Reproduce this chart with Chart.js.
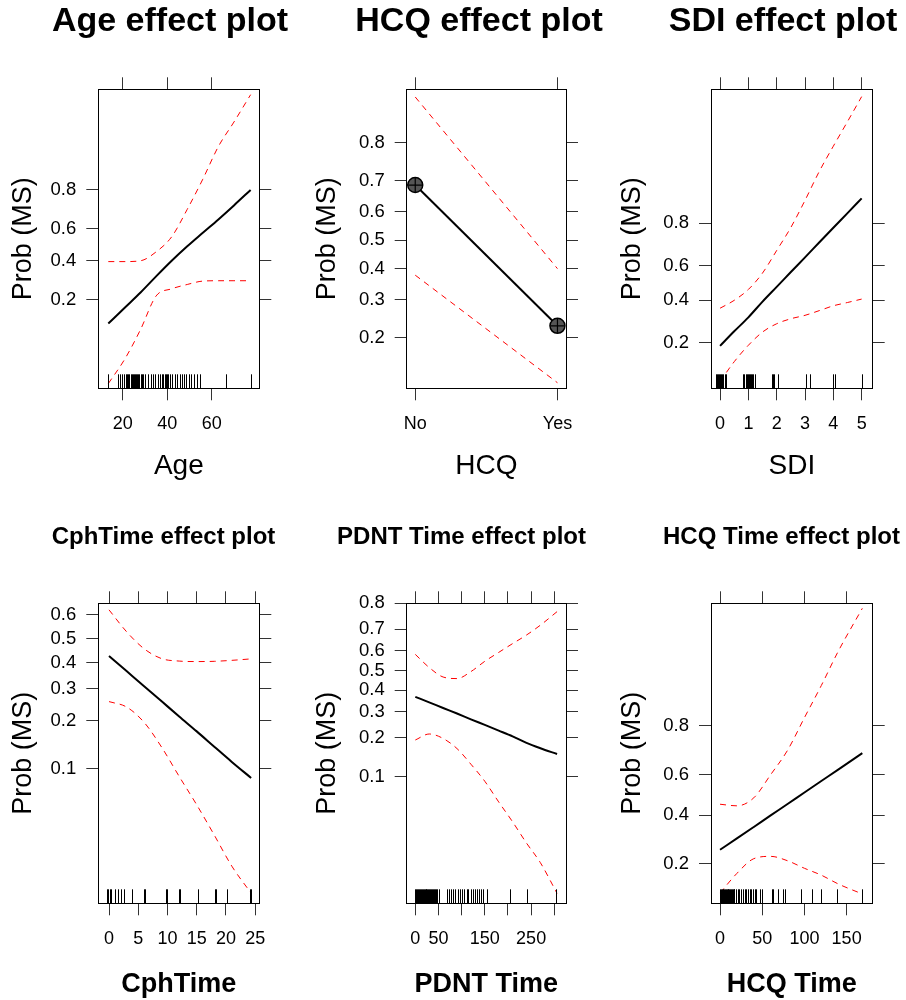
<!DOCTYPE html>
<html>
<head>
<meta charset="utf-8">
<title>Effect plots</title>
<script src="https://cdn.jsdelivr.net/npm/chart.js@4.4.1/dist/chart.umd.min.js"></script>
<style>
  html, body { margin: 0; padding: 0; background: #fff; overflow: hidden; }
  body { width: 906px; height: 1000px; position: relative; }
  canvas { position: absolute; }
</style>
</head>
<body>
<canvas id="ageChart"></canvas>
<canvas id="hcqChart"></canvas>
<canvas id="sdiChart"></canvas>
<canvas id="cphChart"></canvas>
<canvas id="pdntChart"></canvas>
<canvas id="hcqTimeChart"></canvas>
<script>
// ---- Data (probabilities; plotted on a logit axis) ----

// Age
const ageX = [13.5, 21, 28, 35, 42, 49, 56, 63, 70, 77.5];
const ageFit = [0.12, 0.17, 0.23, 0.31, 0.40, 0.49, 0.575, 0.655, 0.73, 0.80];
const ageUpper = [0.395, 0.395, 0.40, 0.455, 0.55, 0.71, 0.84, 0.923, 0.957, 0.978];
const ageLower = [0.029, 0.053, 0.105, 0.215, 0.247, 0.268, 0.285, 0.287, 0.287, 0.287];
const ageRug = [13.5, 18, 18.7, 19.7, 20.6, 21.6, 22, 22.5, 23, 23.5, 24, 24.5, 25, 25.5, 26, 26.5, 27, 27.5, 28, 28.5,
  29.1, 30.2, 31.4, 32.6, 33.6, 34.7, 35.9, 36.9, 37.8, 38.3, 38.8, 39.3, 39.8, 40.4, 41.1, 42.2, 43.4, 44.4, 45.6,
  46.6, 47.5, 48.6, 49.7, 50.8, 52.1, 53.3, 54.6, 66.3, 77.5];
const ageXTicks = [20, 40, 60];
const ageXLabels = ['20', '40', '60'];
const ageYTicks = [0.2, 0.4, 0.6, 0.8];
const ageYLabels = ['0.2', '0.4', '0.6', '0.8'];
const ageXLimits = [9.0, 81.4];
const ageYLimits = [-3.63, 3.93];   // logit units

// HCQ (factor)
const hcqLevels = ['No', 'Yes'];
const hcqX = [1, 2];
const hcqFit = [0.687, 0.228];
const hcqUpper = [0.885, 0.40];
const hcqLower = [0.378, 0.116];
const hcqYTicks = [0.2, 0.3, 0.4, 0.5, 0.6, 0.7, 0.8];
const hcqYLabels = ['0.2', '0.3', '0.4', '0.5', '0.6', '0.7', '0.8'];
const hcqXLimits = [0.94, 2.06];
const hcqYLimits = [-2.11, 2.15];

// SDI
const sdiX = [0, 0.5, 1, 1.5, 2, 2.5, 3, 3.5, 4, 4.5, 5];
const sdiFit = [0.188, 0.245, 0.31, 0.393, 0.477, 0.563, 0.644, 0.719, 0.783, 0.835, 0.877];
const sdiUpper = [0.357, 0.40, 0.462, 0.557, 0.68, 0.784, 0.872, 0.93, 0.96, 0.977, 0.987];
const sdiLower = [0.092, 0.138, 0.19, 0.242, 0.279, 0.303, 0.32, 0.344, 0.37, 0.388, 0.407];
const sdiRug = [-0.16, -0.12, -0.08, -0.04, 0, 0.04, 0.08, 0.12, 0.16, 0.2,
  0.82, 0.86, 0.9, 0.94, 0.98, 1.02, 1.06, 1.1, 1.14, 1.18, 1.22,
  1.84, 1.88, 1.92, 2.04, 3.05, 3.17, 3.99, 4.07, 5.0];
const sdiXTicks = [0, 1, 2, 3, 4, 5];
const sdiXLabels = ['0', '1', '2', '3', '4', '5'];
const sdiYTicks = [0.2, 0.4, 0.6, 0.8];
const sdiYLabels = ['0.2', '0.4', '0.6', '0.8'];
const sdiXLimits = [-0.32, 5.39];
const sdiYLimits = [-2.45, 4.50];

// CphTime
const cphX = [0, 3, 6, 9, 12, 15, 18, 21, 24.3];
const cphFit = [0.428, 0.367, 0.31, 0.258, 0.212, 0.173, 0.139, 0.111, 0.087];
const cphUpper = [0.62, 0.53, 0.458, 0.417, 0.407, 0.405, 0.406, 0.41, 0.416];
const cphLower = [0.257, 0.24, 0.196, 0.138, 0.089, 0.057, 0.035, 0.021, 0.0134];
const cphRug = [-0.3, -0.1, 0.1, 0.3, 0.95, 1.6, 2.0, 2.6, 4.0, 5.9, 6.1, 9.8, 10.0,
  11.9, 12.1, 15.2, 18.1, 18.3, 20.1, 24.1, 24.3];
const cphXTicks = [0, 5, 10, 15, 20, 25];
const cphXLabels = ['0', '5', '10', '15', '20', '25'];
const cphYTicks = [0.1, 0.2, 0.3, 0.4, 0.5, 0.6];
const cphYLabels = ['0.1', '0.2', '0.3', '0.4', '0.5', '0.6'];
const cphXLimits = [-1.83, 25.7];
const cphYLimits = [-4.47, 0.60];

// PDNT Time
const pdntX = [0, 30, 60, 90, 120, 150, 180, 210, 240, 270, 306];
const pdntFit = [0.367, 0.341, 0.315, 0.291, 0.267, 0.245, 0.224, 0.204, 0.183, 0.167, 0.151];
const pdntUpper = [0.582, 0.515, 0.466, 0.458, 0.494, 0.547, 0.592, 0.635, 0.675, 0.718, 0.771];
const pdntLower = [0.192, 0.212, 0.197, 0.166, 0.126, 0.092, 0.062, 0.042, 0.0275, 0.0185, 0.0099];
const pdntRug = [0, 2, 4, 6, 8, 10, 12, 14, 16, 18, 20, 22, 24, 26, 28, 30, 32, 34, 36, 38, 40, 42, 44, 46,
  51, 67.7, 72.7, 76.3, 80.6, 86.4, 92.8, 96.5, 100.8, 105, 110.9, 114.5, 119.5, 123.9, 128.2,
  132.5, 136.8, 141.2, 145.5, 154, 204.4, 241.8, 303.7];
const pdntXTicks = [0, 50, 100, 150, 200, 250, 300];
const pdntXLabels = ['0', '50', '', '150', '', '250', ''];
const pdntYTicks = [0.1, 0.2, 0.3, 0.4, 0.5, 0.6, 0.7, 0.8];
const pdntYLabels = ['0.1', '0.2', '0.3', '0.4', '0.5', '0.6', '0.7', '0.8'];
const pdntXLimits = [-18.6, 325.3];
const pdntYLimits = [-4.81, 1.3865];

// HCQ Time
const hcqtX = [0, 20, 40, 60, 80, 100, 120, 140, 168.6];
const hcqtFit = [0.249, 0.294, 0.344, 0.398, 0.454, 0.512, 0.569, 0.624, 0.698];
const hcqtUpper = [0.453, 0.445, 0.485, 0.60, 0.71, 0.825, 0.90, 0.947, 0.977];
const hcqtLower = [0.122, 0.171, 0.217, 0.225, 0.21, 0.186, 0.166, 0.143, 0.12];
const hcqtRug = [0, 1, 2, 3, 4, 5, 6, 7, 8, 9, 10, 11, 12, 13, 14, 15, 16, 17, 19, 21, 23, 25, 27, 29, 31,
  33, 35, 37, 39, 41, 43, 47, 50, 61, 63, 69, 75, 77, 96.5, 108.5, 120, 139, 168];
const hcqtXTicks = [0, 50, 100, 150];
const hcqtXLabels = ['0', '50', '100', '150'];
const hcqtYTicks = [0.2, 0.4, 0.6, 0.8];
const hcqtYLabels = ['0.2', '0.4', '0.6', '0.8'];
const hcqtXLimits = [-10.7, 180.9];
const hcqtYLimits = [-2.18, 3.85];

// ---- Layout ----
const FONT = "'Liberation Sans', Arial, Helvetica, sans-serif";
Chart.defaults.font.family = FONT;
Chart.defaults.color = '#000';

const rows = [
  { top: 0, height: 500, boxTop: 89.3, boxBottom: 388.3, titleSize: 34, titlePad: 5, xTitleBold: false, xTitleSize: 28, xTitlePad: 20 },
  { top: 500, height: 500, boxTop: 103.3, boxBottom: 403.3, titleSize: 24, titlePad: 25, xTitleBold: true, xTitleSize: 27, xTitlePad: 1.5 }
];

const panels = [
  { id: 'ageChart', row: 0, left: 0, width: 340, boxLeft: 98.3, boxRight: 259.3, yTitleX: 24,
    title: 'Age effect plot', xTitle: 'Age', x: ageX, fit: ageFit, upper: ageUpper, lower: ageLower, rug: ageRug,
    xTicks: ageXTicks, xLabels: ageXLabels, yTicks: ageYTicks, yLabels: ageYLabels, xLim: ageXLimits, yLim: ageYLimits },
  { id: 'hcqChart', row: 0, left: 302, width: 354, boxLeft: 406.7, boxRight: 566, yTitleX: 328,
    title: 'HCQ effect plot', xTitle: 'HCQ', x: hcqX, fit: hcqFit, upper: hcqUpper, lower: hcqLower, rug: [], markers: true,
    xTicks: hcqX, xLabels: hcqLevels, yTicks: hcqYTicks, yLabels: hcqYLabels, xLim: hcqXLimits, yLim: hcqYLimits },
  { id: 'sdiChart', row: 0, left: 615, width: 336, boxLeft: 711, boxRight: 872.7, yTitleX: 632.5,
    title: 'SDI effect plot', xTitle: 'SDI', x: sdiX, fit: sdiFit, upper: sdiUpper, lower: sdiLower, rug: sdiRug,
    xTicks: sdiXTicks, xLabels: sdiXLabels, yTicks: sdiYTicks, yLabels: sdiYLabels, xLim: sdiXLimits, yLim: sdiYLimits },
  { id: 'cphChart', row: 1, left: 0, width: 327, boxLeft: 98.3, boxRight: 259.3, yTitleX: 23.3,
    title: 'CphTime effect plot', xTitle: 'CphTime', x: cphX, fit: cphFit, upper: cphUpper, lower: cphLower, rug: cphRug,
    xTicks: cphXTicks, xLabels: cphXLabels, yTicks: cphYTicks, yLabels: cphYLabels, xLim: cphXLimits, yLim: cphYLimits },
  { id: 'pdntChart', row: 1, left: 300, width: 323, boxLeft: 406.7, boxRight: 566, yTitleX: 327.5,
    title: 'PDNT Time effect plot', xTitle: 'PDNT Time', x: pdntX, fit: pdntFit, upper: pdntUpper, lower: pdntLower, rug: pdntRug,
    xTicks: pdntXTicks, xLabels: pdntXLabels, yTicks: pdntYTicks, yLabels: pdntYLabels, xLim: pdntXLimits, yLim: pdntYLimits },
  { id: 'hcqTimeChart', row: 1, left: 615, width: 333, boxLeft: 711, boxRight: 872.7, yTitleX: 632.5,
    title: 'HCQ Time effect plot', xTitle: 'HCQ Time', x: hcqtX, fit: hcqtFit, upper: hcqtUpper, lower: hcqtLower, rug: hcqtRug,
    xTicks: hcqtXTicks, xLabels: hcqtXLabels, yTicks: hcqtYTicks, yLabels: hcqtYLabels, xLim: hcqtXLimits, yLim: hcqtYLimits }
];

const logit = p => Math.log(p / (1 - p));

// rug marks along the bottom of the panel
const rugPlugin = {
  id: 'rug',
  afterDatasetsDraw(chart, args, opts) {
    const values = opts.values || [];
    if (!values.length) return;
    const { ctx, chartArea, scales } = chart;
    ctx.save();
    ctx.strokeStyle = '#000';
    ctx.lineWidth = 1;
    ctx.beginPath();
    values.forEach(v => {
      const px = Math.round(scales.x.getPixelForValue(v)) + 0.5;
      ctx.moveTo(px, chartArea.bottom);
      ctx.lineTo(px, chartArea.bottom - 14);
    });
    ctx.stroke();
    ctx.restore();
  }
};

function axisBase(min, max, ticks) {
  return {
    type: 'linear',
    min: min,
    max: max,
    bounds: 'data',
    afterBuildTicks: axis => { axis.ticks = ticks.map(v => ({ value: v })); },
    grid: { drawOnChartArea: false, drawTicks: true, tickLength: 12, tickColor: '#333', tickWidth: 1 },
    border: { display: true, color: '#000', width: 1 }
  };
}

function makeChart(p) {
  const row = rows[p.row];
  const canvas = document.getElementById(p.id);
  canvas.width = p.width;
  canvas.height = row.height;
  canvas.style.width = p.width + 'px';
  canvas.style.height = row.height + 'px';
  canvas.style.left = p.left + 'px';
  canvas.style.top = row.top + 'px';

  const toPoints = arr => p.x.map((x, i) => ({ x: x, y: logit(arr[i]) }));
  const yTickValues = p.yTicks.map(logit);
  const titleBlock = row.titleSize + row.titlePad;

  const datasets = [];
  if (p.markers) {
    datasets.push({
      data: toPoints(p.fit), showLine: false, pointStyle: 'cross', pointRadius: 7,
      pointBorderColor: '#000', pointBorderWidth: 1.2, pointHoverRadius: 7
    });
    datasets.push({
      data: toPoints(p.fit), showLine: false, pointStyle: 'circle', pointRadius: 7.5,
      pointBackgroundColor: '#555', pointBorderColor: '#000', pointBorderWidth: 1.5
    });
  }
  datasets.push({
    data: toPoints(p.fit), borderColor: '#000', borderWidth: 2, pointRadius: 0,
    cubicInterpolationMode: 'monotone', fill: false
  });
  [p.upper, p.lower].forEach(arr => {
    datasets.push({
      data: toPoints(arr), borderColor: '#ff0000', borderWidth: 1, borderDash: [6, 5],
      pointRadius: 0, cubicInterpolationMode: 'monotone', fill: false
    });
  });

  const xBottom = Object.assign(axisBase(p.xLim[0], p.xLim[1], p.xTicks), {
    position: 'bottom',
    afterFit: s => { s.height = row.height - row.boxBottom; },
    ticks: {
      autoSkip: false, maxRotation: 0, padding: 13, color: '#000',
      font: { size: 18 },
      callback: (v, i) => p.xLabels[i]
    },
    title: {
      display: true, text: p.xTitle, color: '#000',
      font: { size: row.xTitleSize, weight: row.xTitleBold ? 'bold' : 'normal', lineHeight: 1 },
      padding: { top: 0, bottom: row.xTitlePad }
    }
  });
  const xTop = Object.assign(axisBase(p.xLim[0], p.xLim[1], p.xTicks), {
    position: 'top',
    afterFit: s => { s.height = row.boxTop - titleBlock; },
    ticks: { display: false }
  });
  const yLeft = Object.assign(axisBase(p.yLim[0], p.yLim[1], yTickValues), {
    position: 'left',
    afterFit: s => { s.width = p.boxLeft - p.left; },
    ticks: {
      autoSkip: false, padding: 10, color: '#000',
      font: { size: 18.5 },
      callback: (v, i) => p.yLabels[i]
    },
    title: {
      display: true, text: 'Prob (MS)', color: '#000',
      font: { size: 27, lineHeight: 1 },
      padding: { top: p.yTitleX - p.left - 13.5, bottom: 0 }
    }
  });
  const yRight = Object.assign(axisBase(p.yLim[0], p.yLim[1], yTickValues), {
    position: 'right',
    afterFit: s => { s.width = p.left + p.width - p.boxRight; },
    ticks: { display: false }
  });

  return new Chart(canvas.getContext('2d'), {
    type: 'line',
    data: { datasets: datasets },
    plugins: [rugPlugin],
    options: {
      responsive: false,
      animation: false,
      layout: { padding: 0 },
      plugins: {
        legend: { display: false },
        tooltip: { enabled: false },
        title: {
          display: true, text: p.title, color: '#000',
          font: { size: row.titleSize, weight: 'bold', lineHeight: 1 },
          padding: { top: row.titlePad, bottom: 0 }
        },
        rug: { values: p.rug }
      },
      scales: { x: xBottom, xTop: xTop, y: yLeft, yRight: yRight }
    }
  });
}

panels.forEach(makeChart);
</script>
</body>
</html>
